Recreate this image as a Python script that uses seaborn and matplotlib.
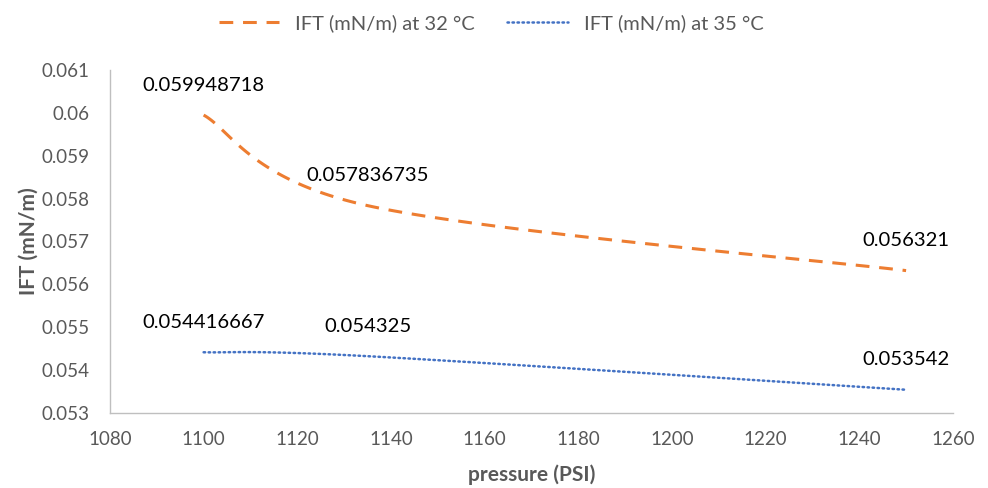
import numpy as np
import pandas as pd
import matplotlib
matplotlib.use("Agg")
import matplotlib.pyplot as plt
import seaborn as sns
from matplotlib.lines import Line2D

# ---- data ----
pressure = [1100, 1135, 1250]
ift_32 = [0.059948718, 0.057836735, 0.056321]
ift_35 = [0.054416667, 0.054325, 0.053542]
label_32 = ["0.059948718", "0.057836735", "0.056321"]
label_35 = ["0.054416667", "0.054325", "0.053542"]
series_names = ["IFT (mN/m) at 32 °C", "IFT (mN/m) at 35 °C"]
x_ticks = [1080, 1100, 1120, 1140, 1160, 1180, 1200, 1220, 1240, 1260]
y_ticks = [0.053, 0.054, 0.055, 0.056, 0.057, 0.058, 0.059, 0.06, 0.061]
y_tick_labels = ["0.053", "0.054", "0.055", "0.056", "0.057", "0.058", "0.059", "0.06", "0.061"]


def smooth_path(xs, ys, n=60):
    """Excel-style smoothed line (Catmull-Rom Bezier) through the given points."""
    P = np.column_stack([xs, ys]).astype(float)
    out = []
    for i in range(len(P) - 1):
        p0 = P[i - 1] if i > 0 else P[i]
        p1, p2 = P[i], P[i + 1]
        p3 = P[i + 2] if i + 2 < len(P) else P[i + 1]
        c1 = p1 + (p2 - p0) / 6.0
        c2 = p2 - (p3 - p1) / 6.0
        t = np.linspace(0, 1, n)[:, None]
        seg = ((1 - t) ** 3) * p1 + 3 * ((1 - t) ** 2) * t * c1 + 3 * (1 - t) * t ** 2 * c2 + t ** 3 * p2
        out.append(seg if i == 0 else seg[1:])
    return np.vstack(out)


sns.set_theme(style="white")
plt.rcParams["font.family"] = ["Lato", "DejaVu Sans"]

fig = plt.figure(figsize=(9.88, 4.88), dpi=100)
ax = fig.add_axes([0.1113, 0.1537, 0.8532, 0.7029])

colors = ["#ED7D31", "#4472C4"]
frames = []
for name, ys in zip(series_names, [ift_32, ift_35]):
    s = smooth_path(pressure, ys)
    frames.append(pd.DataFrame({"pressure": s[:, 0], "ift": s[:, 1], "series": name}))
df = pd.concat(frames, ignore_index=True)

sns.lineplot(data=df, x="pressure", y="ift", hue="series", palette=colors,
             sort=False, estimator=None, ax=ax, legend=False)
lines = ax.get_lines()
lines[0].set_linewidth(2.2)
lines[0].set_dashes([4.5, 3.2])
lines[0].set_dash_capstyle("butt")
lines[1].set_linewidth(1.8)
lines[1].set_dashes([0.6, 1.4])
lines[1].set_dash_capstyle("round")

# data labels
for ys, labs in [(ift_32, label_32), (ift_35, label_35)]:
    for x, y, t in zip(pressure, ys, labs):
        ax.annotate(t, (x, y), xytext=(0, 21.5), textcoords="offset points",
                    ha="center", va="center", fontsize=14.6, color="#000000")

ax.set_xlim(1080, 1260)
ax.set_ylim(0.053, 0.061)
ax.set_xticks(x_ticks)
ax.set_xticklabels([str(v) for v in x_ticks])
ax.set_yticks(y_ticks)
ax.set_yticklabels(y_tick_labels)
ax.tick_params(axis="both", length=0, labelsize=13.5, colors="#595959")
ax.tick_params(axis="x", pad=13)
ax.tick_params(axis="y", pad=15)

for side in ["top", "right"]:
    ax.spines[side].set_visible(False)
for side in ["left", "bottom"]:
    ax.spines[side].set_color("#BFBFBF")
    ax.spines[side].set_linewidth(1.0)

ax.set_xlabel("pressure (PSI)", fontsize=15, fontweight="bold", color="#595959", labelpad=12)
ax.set_ylabel("IFT (mN/m)", fontsize=15, fontweight="bold", color="#595959", labelpad=1.5)
ax.grid(False)

handles = [
    Line2D([0], [0], color=colors[0], lw=2.2, dashes=[4.5, 3.2]),
    Line2D([0], [0], color=colors[1], lw=1.8, dashes=[0.6, 1.4], dash_capstyle="round"),
]
fig.legend(handles, series_names, loc="center", bbox_to_anchor=(0.497, 0.952), ncol=2,
           frameon=False, fontsize=14.5, handlelength=3.0, columnspacing=1.6, handletextpad=0.8,
           labelcolor="#595959")

fig.savefig("out.png", dpi=100, facecolor="white")
